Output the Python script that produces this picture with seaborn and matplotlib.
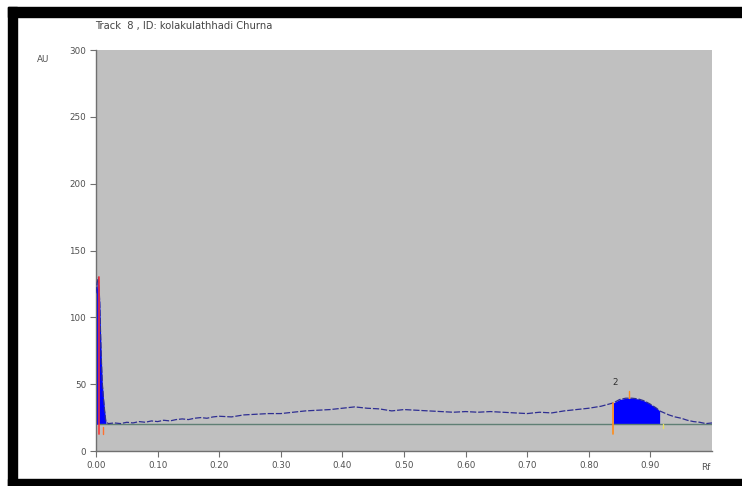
import numpy as np
import pandas as pd
import matplotlib
matplotlib.use("Agg")
import matplotlib.pyplot as plt
from matplotlib.patches import Rectangle
import seaborn as sns

# Densitometric scan of track 8 (Rf vs. absorbance units)
rf = [0.000, 0.002, 0.004, 0.006, 0.008, 0.010, 0.012, 0.014, 0.016, 0.020,
      0.03, 0.04, 0.05, 0.06, 0.07, 0.08, 0.09, 0.10, 0.11, 0.12,
      0.13, 0.14, 0.15, 0.16, 0.17, 0.18, 0.19, 0.20, 0.22, 0.24,
      0.26, 0.28, 0.30, 0.32, 0.34, 0.36, 0.38, 0.40, 0.42, 0.44,
      0.46, 0.48, 0.50, 0.52, 0.54, 0.56, 0.58, 0.60, 0.62, 0.64,
      0.66, 0.68, 0.70, 0.72, 0.74, 0.76, 0.78, 0.80, 0.82, 0.84,
      0.85, 0.86, 0.87, 0.88, 0.89, 0.90, 0.91, 0.915, 0.93, 0.94,
      0.95, 0.96, 0.97, 0.98, 0.99, 1.00]
au = [118, 126, 130, 112, 78, 52, 40, 30, 22, 20.5,
      21, 20.5, 21.5, 21, 22, 21.5, 22.5, 22, 23, 22.5,
      23.5, 24, 23.5, 24.5, 25, 24.5, 25.5, 26, 25.5, 27,
      27.5, 28, 28, 29, 30, 30.5, 31, 32, 33, 32,
      31.5, 30, 31, 30.5, 30, 29.5, 29, 29.5, 29, 29.5,
      29, 28.5, 28, 29, 28.5, 30, 31, 32, 33.5, 36,
      38.5, 39.5, 39.5, 39, 37.5, 35, 32, 30, 27, 25.5,
      24.5, 23, 22, 21.5, 20.5, 21]

baseline_au = 20
baseline_start = 0.005

# Integrated peaks: (start Rf, end Rf, max Rf, label)
peak_start = [0.000, 0.840]
peak_end = [0.016, 0.915]
peak_max = [0.004, 0.865]
peak_label = ["", "2"]

x_ticks = [0.0, 0.1, 0.2, 0.3, 0.4, 0.5, 0.6, 0.7, 0.8, 0.9]
x_tick_labels = ["0.00", "0.10", "0.20", "0.30", "0.40", "0.50", "0.60", "0.70", "0.80", "0.90"]
y_ticks = [0, 50, 100, 150, 200, 250, 300]
y_tick_labels = ["0", "50", "100", "150", "200", "250", "300"]

title_text = "Track  8 , ID: kolakulathhadi Churna"

sns.set_style("ticks")
plt.rcParams["font.family"] = ["DejaVu Sans"]

df = pd.DataFrame({"Rf": rf, "AU": au})
rf_arr = np.array(rf)
au_arr = np.array(au)

fig = plt.figure(figsize=(7.42, 4.86), dpi=100)
W, H = 742, 486

# Black frame on left, top and bottom
for (x0, y0, w, h) in [(8, 7, 9, 479), (8, 7, 734, 10), (8, 479, 734, 7)]:
    fig.patches.append(Rectangle((x0 / W, 1 - (y0 + h) / H), w / W, h / H,
                                 transform=fig.transFigure, color="black", zorder=0))

ax = fig.add_axes([96 / W, 1 - 451 / H, (712 - 96) / W, (451 - 50) / H])
ax.set_facecolor("#c0c0c0")

# Filled peak areas between baseline and trace
for s, e in zip(peak_start, peak_end):
    m = (rf_arr >= s) & (rf_arr <= e)
    ax.fill_between(rf_arr[m], baseline_au, au_arr[m], color="#0000ff", lw=0, zorder=2)

# Baseline
ax.plot([baseline_start, 1.0], [baseline_au, baseline_au], color="#5f7f74", lw=1.0, zorder=3)

# Scan trace
sns.lineplot(data=df, x="Rf", y="AU", ax=ax, color="#2e2e92", lw=0.9,
             linestyle=(0, (5, 1.5)), zorder=4)

# Peak start / max / end markers
ax.plot([0.005, 0.005], [13, 130], color="#ff3030", lw=1.3, zorder=5, alpha=0.85)
ax.plot([0.012, 0.012], [13, 18], color="#ff7030", lw=1.0, zorder=5)
ax.plot([peak_start[1], peak_start[1]], [13, 36], color="#ff8c1a", lw=1.2, zorder=5)
ax.plot([peak_max[1], peak_max[1]], [39.5, 45], color="#ff8c1a", lw=1.0, zorder=5)
ax.plot([peak_end[1] + 0.005, peak_end[1] + 0.005], [17, 20], color="#e8e060", lw=1.0, zorder=5)
ax.text(0.843, 48, peak_label[1], fontsize=6.3, color="#303030", ha="center", va="bottom")

ax.set_xlim(0, 1.0)
ax.set_ylim(0, 300)
ax.set_xticks(x_ticks)
ax.set_xticklabels(x_tick_labels)
ax.set_yticks(y_ticks)
ax.set_yticklabels(y_tick_labels)
ax.set_xlabel("")
ax.set_ylabel("")
for side in ["top", "right"]:
    ax.spines[side].set_visible(False)
for side in ["left", "bottom"]:
    ax.spines[side].set_color("#707070")
    ax.spines[side].set_linewidth(1.0)
ax.tick_params(axis="both", colors="#707070", labelcolor="#505050", labelsize=6.3,
               length=4, width=0.8, pad=3)

fig.text(1 - 36 / W, 1 - 467 / H, "Rf", fontsize=6.3, color="#505050", ha="center", va="center")
fig.text(43 / W, 1 - 59 / H, "AU", fontsize=6.3, color="#505050", ha="center", va="center")
fig.text(95 / W, 1 - 26 / H, title_text, fontsize=7.2, color="#454545", ha="left", va="center")

fig.savefig("out.png", dpi=100, facecolor="white")
